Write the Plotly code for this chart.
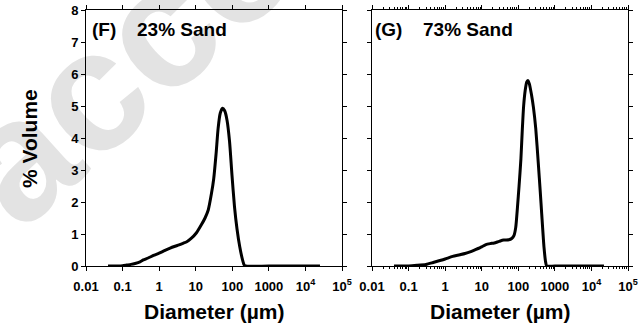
import base64
import plotly.graph_objects as go

# Particle size distributions (diameter in µm, % volume)
diam_f = [0.04, 0.08, 0.1, 0.13, 0.17, 0.22, 0.3, 0.37, 0.5, 0.7, 1.0, 1.4, 2.0, 2.6,
          3.5, 4.5, 5.7, 7.5, 10.5, 14, 18, 22, 27, 31, 36, 41, 47, 54, 62, 72, 84,
          98, 115, 135, 160, 190, 210, 230, 1000, 25000]
vol_f = [0, 0, 0.01, 0.03, 0.05, 0.08, 0.13, 0.19, 0.25, 0.33, 0.40, 0.48, 0.56, 0.61,
         0.66, 0.71, 0.76, 0.86, 1.04, 1.27, 1.5, 1.75, 2.27, 2.72, 3.5, 4.3, 4.78,
         4.93, 4.85, 4.55, 3.9, 2.85, 1.85, 1.15, 0.6, 0.2, 0.04, 0, 0, 0]

diam_g = [0.04, 0.1, 0.17, 0.3, 0.47, 0.72, 1.0, 1.6, 2.5, 3.5, 4.8, 7, 10, 13, 17, 22,
          30, 40, 55, 66, 76, 85, 95, 105, 118, 128, 140, 155, 170, 182, 200, 230,
          260, 300, 353, 400, 437, 505, 560, 600, 1000, 22000]
vol_g = [0, 0, 0.02, 0.05, 0.11, 0.17, 0.22, 0.3, 0.35, 0.39, 0.44, 0.52, 0.6, 0.67,
         0.70, 0.72, 0.77, 0.81, 0.82, 0.86, 0.95, 1.2, 1.84, 2.5, 3.35, 4.2, 5.0,
         5.5, 5.75, 5.8, 5.7, 5.35, 4.95, 4.3, 3.2, 2.3, 1.63, 0.58, 0.12, 0, 0, 0]

xtick_vals = [0.01, 0.1, 1, 10, 100, 1000, 1e4, 1e5]
xtick_text = ["0.01", "0.1", "1", "10", "100", "1000", "10<sup>4</sup>", "10<sup>5</sup>"]
ytick_vals = [0, 1, 2, 3, 4, 5, 6, 7, 8]

panel_tags = ["(F)", "(G)"]
panel_names = ["23% Sand", "73% Sand"]

W, H = 643, 328
FAMILY = "Liberation Sans, Arial"
TICK_FONT = dict(family=FAMILY, size=13, color="black", weight="bold")


def px_x(p):
    return p / W


def px_y(p):
    return 1 - p / H


# light grey background stamp
stamp_svg = (
    "<svg xmlns='http://www.w3.org/2000/svg' width='643' height='328'>"
    "<text x='20' y='234' transform='rotate(-42 20 234)' "
    "font-family='Liberation Sans, Arial' font-weight='bold' font-size='172' "
    "fill='#e3e3e3'>accepted</text></svg>"
)
stamp_uri = "data:image/svg+xml;base64," + base64.b64encode(stamp_svg.encode()).decode()

fig = go.Figure()
fig.add_trace(go.Scatter(x=diam_f, y=vol_f, mode="lines", xaxis="x", yaxis="y",
                         line=dict(color="black", width=3, shape="spline", smoothing=0.6),
                         showlegend=False))
fig.add_trace(go.Scatter(x=diam_g, y=vol_g, mode="lines", xaxis="x2", yaxis="y2",
                         line=dict(color="black", width=3, shape="spline", smoothing=0.6),
                         showlegend=False))

common_x = dict(type="log", range=[-2, 5], tickmode="array", tickvals=xtick_vals,
                ticktext=xtick_text, ticks="outside", ticklen=4, tickwidth=1,
                tickcolor="black", showline=True, linecolor="black", linewidth=1,
                mirror="ticks", showgrid=False, zeroline=False, tickfont=TICK_FONT,
                ticklabelstandoff=4)
common_y = dict(range=[0, 8], tickmode="array", tickvals=ytick_vals, ticks="outside",
                ticklen=4, tickwidth=1, tickcolor="black", showline=True,
                linecolor="black", linewidth=1, mirror="ticks", showgrid=False,
                zeroline=False, tickfont=TICK_FONT)

y_dom = [px_y(266), px_y(10)]
fig.update_layout(
    width=W, height=H,
    margin=dict(l=0, r=0, t=0, b=0, autoexpand=False),
    paper_bgcolor="white",
    plot_bgcolor="rgba(0,0,0,0)",
    xaxis=dict(common_x, domain=[px_x(86), px_x(342)], anchor="y"),
    yaxis=dict(common_y, domain=y_dom, anchor="x"),
    xaxis2=dict(common_x, domain=[px_x(372), px_x(628)], anchor="y2",
                minor=dict(ticks="outside", ticklen=2, tickcolor="black",
                           dtick="D1", showgrid=False)),
    yaxis2=dict(common_y, domain=y_dom, anchor="x2", showticklabels=False),
    images=[dict(source=stamp_uri, xref="paper", yref="paper", x=0, y=1,
                 sizex=1, sizey=1, xanchor="left", yanchor="top",
                 sizing="stretch", layer="below")],
)

annotations = []
# axis titles
for cx in (214, 500):
    annotations.append(dict(text="Diameter (µm)", x=px_x(cx), y=px_y(311),
                            xref="paper", yref="paper", showarrow=False,
                            xanchor="center", yanchor="middle",
                            font=dict(family=FAMILY, size=21, color="black",
                                      weight="bold")))
annotations.append(dict(text="% Volume", x=px_x(29), y=px_y(139), xref="paper",
                        yref="paper", showarrow=False, textangle=-90,
                        xanchor="center", yanchor="middle",
                        font=dict(family=FAMILY, size=21, color="black",
                                  weight="bold")))
# panel labels
for tag, name, tx, nx in zip(panel_tags, panel_names, (90, 373), (135, 421)):
    for txt, xx in ((tag, tx), (name, nx)):
        annotations.append(dict(text=txt, x=px_x(xx), y=px_y(30), xref="paper",
                                yref="paper", showarrow=False, xanchor="left",
                                yanchor="middle",
                                font=dict(family=FAMILY, size=19, color="black",
                                          weight="bold")))
fig.update_layout(annotations=annotations)

fig.write_html("out.html",
               post_script="document.body.style.margin='0';"
                           "document.body.style.overflow='hidden';")
